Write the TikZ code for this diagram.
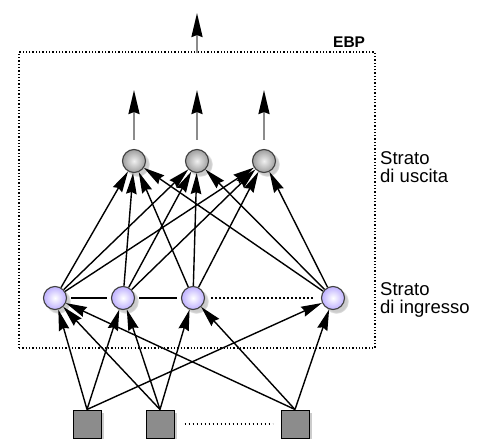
\documentclass[tikz,border=0pt]{standalone}
\usepackage{fontspec}
\setmainfont{Liberation Sans}
\usetikzlibrary{arrows.meta,shadows}
\definecolor{lav}{RGB}{190,176,255}
\begin{document}
\begin{tikzpicture}[x=1pt,y=-1pt,
  conn/.style={line width=1.4pt,-{Stealth[length=21pt,width=10.5pt,inset=2pt]}},
  outarr/.style={line width=2.2pt,draw=black!45,-{Stealth[length=24pt,width=11pt,inset=2pt,color=black]}},
  outnode/.style={circle,minimum size=23pt,inner sep=0pt,draw=black!75,line width=1.1pt,
    inner color=black!6,outer color=black!38,
    circular drop shadow={shadow xshift=3pt,shadow yshift=-3pt,opacity=0.4}},
  innode/.style={circle,minimum size=23pt,inner sep=0pt,draw=black!75,line width=1.1pt,
    inner color=white,outer color=lav,
    circular drop shadow={shadow xshift=3pt,shadow yshift=-3pt,opacity=0.4}},
  sqnode/.style={rectangle,minimum size=28pt,inner sep=0pt,draw=black,line width=1pt,fill=black!45,
    drop shadow={shadow xshift=3pt,shadow yshift=-3pt,opacity=0.4}},
  lab/.style={anchor=north west,align=left,inner sep=0pt,font=\fontsize{18.5}{18}\selectfont}
]
\useasboundingbox (0,0) rectangle (483,439);
\fill[white] (0,0) rectangle (483,439);

% box
\node[draw,dash pattern=on 1.3pt off 2pt,line width=1.3pt,minimum width=356pt,minimum height=296pt,inner sep=0pt] (box) at (197,200) {};
\node[anchor=base west,inner sep=0pt,font=\bfseries\fontsize{15.5}{15}\selectfont] (ebp) at (333,47) {EBP};

% nodes
\node[outnode] (out1) at (134,161) {};
\node[outnode] (out2) at (197,161) {};
\node[outnode] (out3) at (264,161) {};

\node[innode] (in1) at (55,298) {};
\node[innode] (in2) at (123,298) {};
\node[innode] (in3) at (193,298) {};
\node[innode] (in4) at (333,298) {};

\node[sqnode] (sq1) at (87,424) {};
\node[sqnode] (sq2) at (160,424) {};
\node[sqnode] (sq3) at (295,424) {};

% labels
\node[lab] (l1) at (380,151) {Strato\\di uscita};
\node[lab] (l2) at (380,282) {Strato\\di ingresso};

% output arrows
\coordinate (t0) at (197,13);
\coordinate (t1) at (134,90);
\coordinate (t2) at (197,90);
\coordinate (t3) at (264,90);
\draw[outarr,shorten <=-2pt] (box.north) -- (t0);
\draw[outarr,shorten <=9pt] (out1) -- (t1);
\draw[outarr,shorten <=9pt] (out2) -- (t2);
\draw[outarr,shorten <=9pt] (out3) -- (t3);

% input to output
\foreach \i in {1,2,3,4}{
  \foreach \o in {1,2,3}{
    \draw[conn] (in\i) -- (out\o);
  }
}

% input layer links
\draw[line width=1.1pt,shorten <=4pt,shorten >=4pt] (in1) -- (in2);
\draw[line width=1.1pt,shorten <=4pt,shorten >=4pt] (in2) -- (in3);
\draw[line width=1.8pt,dash pattern=on 1.8pt off 2.2pt,shorten <=6pt,shorten >=6pt] (in3) -- (in4);
\draw[line width=1.8pt,dash pattern=on 1.8pt off 2.2pt,shorten <=10pt,shorten >=8pt] (sq2) -- (sq3);

% squares to input
\draw[conn] (sq1.north) -- (in1);
\draw[conn] (sq1.north) -- (in2);
\draw[conn] (sq1.north) -- (in4);
\draw[conn] (sq2.north) -- (in1);
\draw[conn] (sq2.north) -- (in2);
\draw[conn] (sq2.north) -- (in3);
\draw[conn] (sq3.north) -- (in1);
\draw[conn] (sq3.north) -- (in3);
\draw[conn] (sq3.north) -- (in4);
\end{tikzpicture}
\end{document}
